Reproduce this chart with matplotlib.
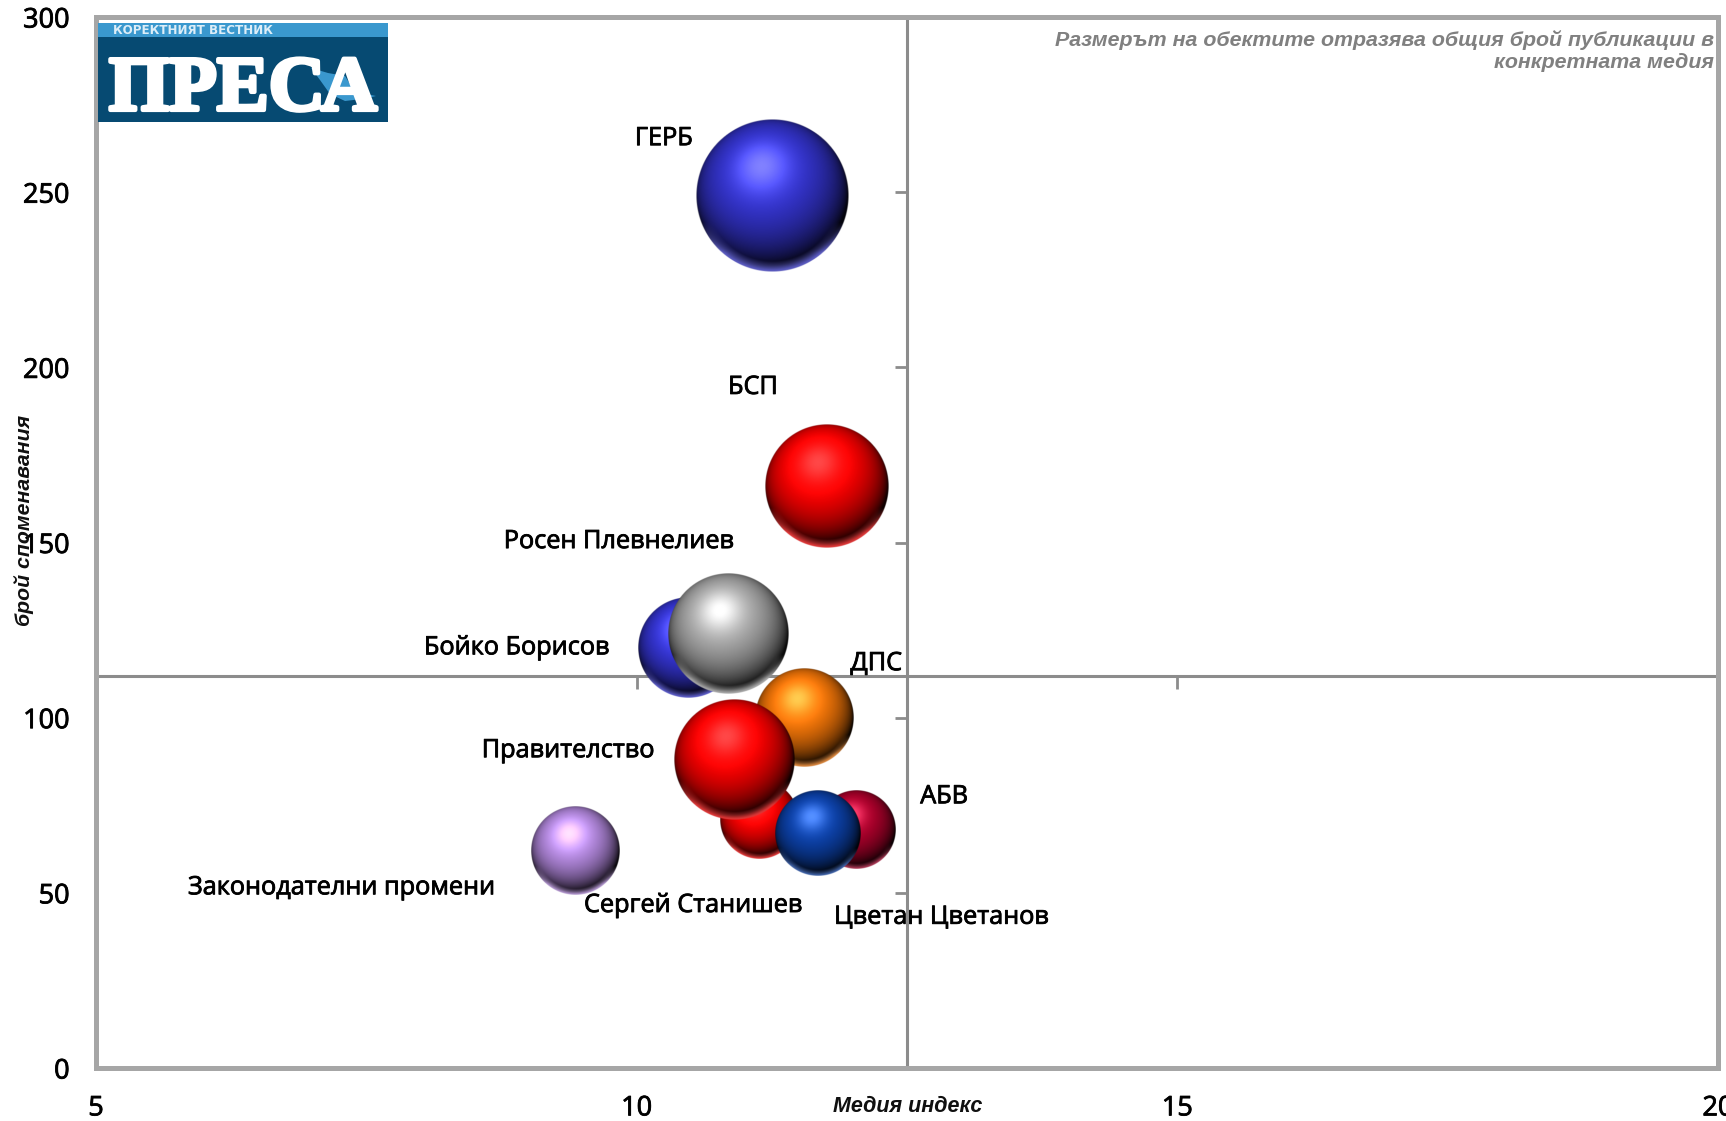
import matplotlib
matplotlib.use('Agg')
import matplotlib.pyplot as plt
import matplotlib.patheffects as pe
from matplotlib.patches import Rectangle, Polygon
import numpy as np

#chart data
names = ['ГЕРБ', 'БСП', 'Бойко Борисов', 'Росен Плевнелиев', 'ДПС', 'Сергей Станишев',
         'Правителство', 'АБВ', 'Цветан Цветанов', 'Законодателни промени']
mediaIndex = [11.25, 11.76, 10.48, 10.85, 11.55, 11.13, 10.90, 12.03, 11.67, 9.43]
mentions = [249, 166, 120, 124, 100, 71, 88, 68, 67, 62]
publications = [300, 196, 131, 189, 126, 80, 189, 80, 94, 102]
xTicks = [5, 10, 15, 20]
yTicks = [0, 50, 100, 150, 200, 250, 300]
crossX = 12.5
crossY = 112

#look of the chart, same order as names
colors = ['#3434D0', '#FF0000', '#3636DA', '#AAAAAA', '#F87808', '#FF0000',
          '#FF0000', '#B0002C', '#0C42AC', '#B88CE4']
labelOffsets = [(-108, 57), (-74, 99), (-172, 0), (-110, 92), (72, 54), (-66, -86),
                (-166, 9), (88, 33), (124, -84), (-234, -37)]

W, H = 1726, 1121
GRID = '#A6A6A6'
CROSS = '#8C8C8C'
bolder = [pe.withStroke(linewidth=0.6, foreground='black')]


def axRect(left, top, right, bottom):
    return [left / W, 1 - bottom / H, (right - left) / W, (bottom - top) / H]


def sphere(color, n=300):
    #shaded ball like the excel 3D bubbles, returned as rgba array
    base = np.array(matplotlib.colors.to_rgb(color))
    u, v = np.meshgrid(np.linspace(-1, 1, n), np.linspace(-1, 1, n))
    r = np.sqrt(u**2 + v**2)
    z = np.sqrt(np.clip(1 - r**2, 0, 1))
    light = np.array([-0.14, 0.38, 0.90])
    light = light / np.linalg.norm(light)
    diff = np.clip(u * light[0] + v * light[1] + z * light[2], 0, 1)
    shade = 0.06 + 1.05 * diff**0.95
    spec = 0.28 * diff**18
    img = np.clip(base[None, None, :] * shade[:, :, None] + spec[:, :, None], 0, 1)
    #lighter rim at the lower edge
    rim = np.clip((r - 0.86) / 0.12, 0, 1) * np.clip((-v - 0.35) / 0.4, 0, 1)
    rim = rim[:, :, None] * 0.85
    img = img * (1 - rim) + (0.75 * base + 0.25)[None, None, :] * rim
    alpha = np.clip((1 - r) * n / 2, 0, 1)
    return np.dstack([img, alpha])


fig = plt.figure(figsize=(W / 100, H / 100), dpi=100, facecolor='white')
ax = fig.add_axes(axRect(96, 17, 1718, 1068))
ax.set_xlim(5, 20)
ax.set_ylim(0, 300)

for side in ax.spines:
    ax.spines[side].set_linewidth(3.6)
    ax.spines[side].set_color(GRID)

ax.set_xticks(xTicks)
ax.set_yticks(yTicks)
ax.tick_params(axis='x', length=0, pad=19, labelsize=19.5)
ax.tick_params(axis='y', length=0, pad=19, labelsize=19.5)
for lab in ax.get_xticklabels() + ax.get_yticklabels():
    lab.set_fontfamily('Open Sans')
    lab.set_path_effects(bolder)

#the two axes crossing inside the plot, with their tick marks
ax.axvline(crossX, color=CROSS, lw=2.2, zorder=1)
ax.axhline(crossY, color=CROSS, lw=2.2, zorder=1)
ax.plot([crossX] * 5, yTicks[1:6], ls='', marker=0, ms=9, mew=2, color=CROSS, zorder=1)
ax.plot(xTicks[1:3], [crossY] * 2, ls='', marker=3, ms=9, mew=2, color=CROSS, zorder=1)

pxX = ax.get_position().width * W / 15
pxY = ax.get_position().height * H / 300
for i in range(len(names)):
    radius = 76.2 * np.sqrt(publications[i] / 300)
    dx = radius / pxX
    dy = radius / pxY
    ax.imshow(sphere(colors[i]), origin='lower', aspect='auto', interpolation='bilinear',
              extent=(mediaIndex[i] - dx, mediaIndex[i] + dx, mentions[i] - dy, mentions[i] + dy),
              zorder=3 + i * 0.01)
    ax.annotate(names[i], (mediaIndex[i], mentions[i]), xytext=labelOffsets[i],
                textcoords='offset pixels', ha='center', va='center', fontsize=18.2,
                family='Open Sans', color='black', zorder=5, path_effects=bolder)
ax.set_xlim(5, 20)
ax.set_ylim(0, 300)

#axis titles and the note
fig.text(908 / W, 1 - 1106 / H, 'Медия индекс', ha='center', va='center', fontsize=15.5,
         family='Liberation Sans', weight='bold', style='italic', color='#101010')
fig.text(24 / W, 1 - 520 / H, 'брой споменавания', rotation=90, ha='center', va='center',
         fontsize=15.3, family='Liberation Sans', weight='bold', style='italic', color='#101010')
fig.text(1714 / W, 1 - 51 / H, 'Размерът на обектите отразява общия брой публикации в\nконкретната медия',
         ha='right', va='center', fontsize=15.4, family='Liberation Sans', weight='bold',
         style='italic', color='#808080', linespacing=1.17)

#logo in the corner
logo = fig.add_axes(axRect(98, 23, 388, 122), zorder=6)
logo.set_xlim(98, 388)
logo.set_ylim(122, 23)
logo.axis('off')
logo.add_patch(Rectangle((98, 23), 290, 99, color='#064A72', lw=0))
logo.add_patch(Rectangle((98, 23), 290, 14, color='#3A98CE', lw=0))
logo.text(113, 30.5, 'КОРЕКТНИЯТ ВЕСТНИК', color='#DDEEF8', fontsize=8.6, weight='bold',
          family='DejaVu Sans', va='center', ha='left')
logo.text(243, 110, 'ПРЕСА', color='white', fontsize=56, weight='bold', family='Liberation Serif',
          va='baseline', ha='center',
          path_effects=[pe.withStroke(linewidth=3, foreground='white')])
logo.add_patch(Polygon([(311, 68), (328, 73), (345, 76), (355, 92), (376, 96), (362, 99),
                        (345, 101), (330, 94), (320, 80)], color='#3A98CE', lw=0))

plt.savefig('out.png', dpi=100)
